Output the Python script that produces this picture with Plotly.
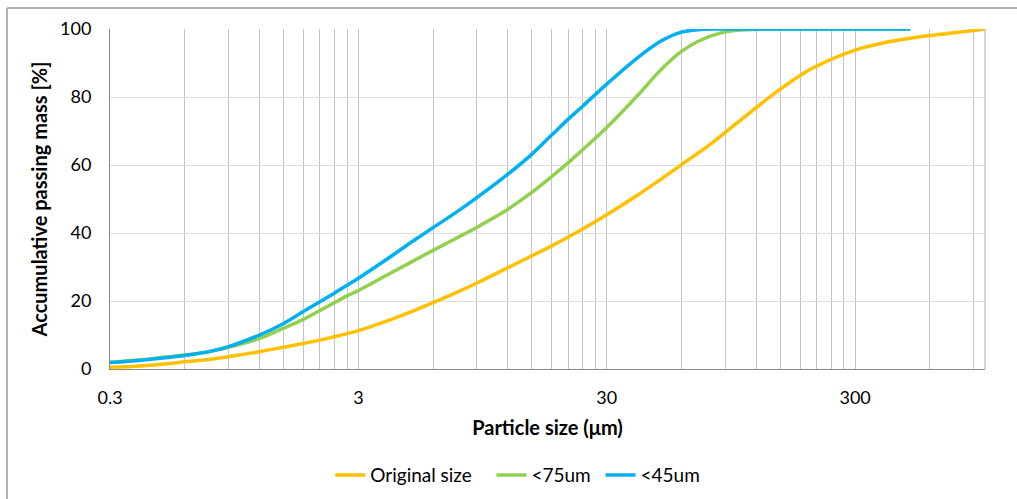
import plotly.graph_objects as go

# Particle sizes (µm) and accumulative passing mass (%)
sizes_orig = [0.3, 0.4, 0.5, 0.6, 0.75, 0.9, 1.2, 1.5, 1.8, 2.1, 2.4, 2.7, 3, 4, 5, 6, 7.5, 9,
              12, 15, 18, 21, 24, 30, 40, 50, 60, 80, 100, 150, 200, 300, 400, 500, 600, 800, 1000]
original = [0.5, 0.9, 1.5, 2.1, 2.8, 3.6, 5.1, 6.4, 7.5, 8.5, 9.5, 10.4, 11.3, 14.4, 17.1, 19.5,
            22.6, 25.3, 29.8, 33.3, 36.2, 38.8, 41.2, 45.4, 51.2, 56.0, 60.1, 66.6, 72.3, 82.3,
            88.3, 93.8, 96.1, 97.3, 98.1, 99.1, 100.0]

sizes_75 = [0.3, 0.4, 0.5, 0.6, 0.75, 0.9, 1.2, 1.5, 1.8, 2.1, 2.4, 2.7, 3, 4, 5, 6, 7.5, 9,
            12, 15, 18, 21, 24, 30, 40, 50, 60, 70, 85, 100, 150, 200, 300, 500]
lt75 = [2.0, 2.7, 3.5, 4.1, 5.1, 6.4, 9.0, 12.0, 14.6, 17.2, 19.5, 21.5, 23.1, 28.0, 31.8, 34.9,
        38.6, 41.7, 47.0, 52.0, 56.6, 60.7, 64.5, 71.0, 80.5, 88.3, 93.4, 96.4, 98.7, 99.6, 100,
        100, 100, 100]

sizes_45 = [0.3, 0.4, 0.5, 0.6, 0.75, 0.9, 1.2, 1.5, 1.8, 2.1, 2.4, 2.7, 3, 4, 5, 6, 7.5, 9,
            12, 15, 18, 21, 24, 30, 40, 50, 60, 70, 80, 100, 150, 200, 300, 500]
lt45 = [1.9, 2.6, 3.3, 4.0, 5.1, 6.6, 10.0, 13.4, 16.9, 19.8, 22.3, 24.6, 26.7, 32.8, 37.7, 41.6,
        46.3, 50.4, 57.3, 63.2, 68.8, 73.5, 77.3, 83.8, 91.6, 96.6, 99.1, 99.8, 100, 100, 100,
        100, 100, 100]

series_names = ["Original size", "<75um", "<45um"]

x_ticks = [0.3, 3, 30, 300]
minor_ticks = [0.3 * k * 10 ** n for n in range(4) for k in range(2, 10)]
y_ticks = [0, 20, 40, 60, 80, 100]

FONT = "Lato"
NB = "\u00a0"
SM = 1.0
fig = go.Figure()
fig.add_trace(go.Scatter(x=sizes_orig, y=original, name=series_names[0] + NB * 3, mode="lines",
                         line=dict(color="#FFC000", width=3.5, shape="spline", smoothing=SM)))
fig.add_trace(go.Scatter(x=sizes_75, y=lt75, name=series_names[1] + NB, mode="lines",
                         line=dict(color="#92D050", width=3.5, shape="spline", smoothing=SM)))
fig.add_trace(go.Scatter(x=sizes_45, y=lt45, name=series_names[2], mode="lines",
                         line=dict(color="#00B0F0", width=3.5, shape="spline", smoothing=SM)))

fig.update_layout(
    width=1017, height=499,
    margin=dict(l=110, r=32, t=29, b=130, autoexpand=False),
    paper_bgcolor="white", plot_bgcolor="white",
    font=dict(family=FONT, size=18, color="#000000"),
    showlegend=True,
    legend=dict(orientation="h", x=0.466, xanchor="center", y=-0.312, yanchor="middle",
                font=dict(family=FONT, size=19), itemwidth=30, tracegroupgap=0),
    xaxis=dict(
        type="log", range=[-0.5228787, 3.0], automargin=False,
        tickvals=x_ticks, ticktext=[str(v) for v in x_ticks],
        showgrid=True, gridcolor="#c4c4c4", gridwidth=1,
        minor=dict(tickvals=minor_ticks, showgrid=True, gridcolor="#c4c4c4", gridwidth=1, ticks=""),
        showline=True, linecolor="#8a8a8a", linewidth=1, ticks="", zeroline=False,
        ticklabelstandoff=12,
        title=dict(text="<b>Particle size (μm)</b>", font=dict(family=FONT, size=20), standoff=14),
    ),
    yaxis=dict(
        range=[0, 100], tickvals=y_ticks, automargin=False,
        showgrid=True, gridcolor="#dedede", gridwidth=1,
        showline=True, linecolor="#8a8a8a", linewidth=1, ticks="", zeroline=False,
        ticklabelstandoff=14,
        title=dict(text="<b>Accumulative passing mass [%]</b>", font=dict(family=FONT, size=20), standoff=7),
    ),
    shapes=[
        dict(type="line", xref="paper", yref="paper", x0=1, x1=1, y0=0, y1=1,
             line=dict(color="#c4c4c4", width=1.5), layer="below"),
        dict(type="line", xref="paper", yref="paper", x0=-0.1177, x1=1.1, y0=1.0618, y1=1.0618,
             line=dict(color="#9a9a9a", width=1.5)),
        dict(type="line", xref="paper", yref="paper", x0=-0.1177, x1=-0.1177, y0=1.0618, y1=-0.5,
             line=dict(color="#9a9a9a", width=1.5)),
    ],
)

fig.write_html("out.html")
